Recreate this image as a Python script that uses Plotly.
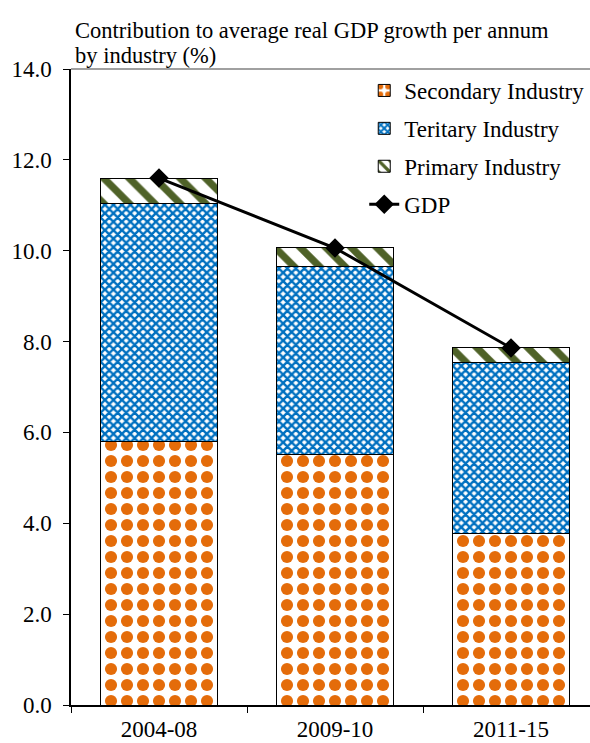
import plotly.graph_objects as go

categories = ["2004-08", "2009-10", "2011-15"]
secondary = [5.79, 5.51, 3.77]
tertiary = [5.26, 4.15, 3.76]
primary = [0.55, 0.40, 0.33]
gdp = [11.6, 10.06, 7.86]
y_ticks = [0, 2, 4, 6, 8, 10, 12, 14]

FONT = "Times New Roman, Liberation Serif, serif"
FS = 23
ORANGE = "#E46C0A"
BLUE = "#0070C0"
GREEN = "#4F6228"

fig = go.Figure()
fig.add_trace(go.Bar(
    x=categories, y=secondary, name="Secondary Industry", legendgroup="a",
    marker=dict(color="white", line=dict(color="black", width=1),
                pattern=dict(shape=".", fgcolor=ORANGE, bgcolor="white",
                             size=16, solidity=0.45, fillmode="replace")),
))
fig.add_trace(go.Bar(
    x=categories, y=tertiary, name="Teritary Industry", legendgroup="b",
    marker=dict(color="white", line=dict(color="black", width=1),
                pattern=dict(shape="x", fgcolor=BLUE, bgcolor="white",
                             size=6, solidity=0.65, fillmode="replace")),
))
fig.add_trace(go.Bar(
    x=categories, y=primary, name="Primary Industry", legendgroup="c",
    marker=dict(color="white", line=dict(color="black", width=1),
                pattern=dict(shape="\\", fgcolor=GREEN, bgcolor="white",
                             size=18, solidity=0.4, fillmode="replace")),
))
fig.add_trace(go.Scatter(
    x=categories, y=gdp, name="GDP", legendgroup="d", mode="lines+markers",
    line=dict(color="black", width=3),
    marker=dict(symbol="diamond", size=15, color="black"),
))

plot_left, plot_right = 71, 590
cat_px = 176.0
right_ext = (plot_right - plot_left) / cat_px - 0.5

fig.update_layout(
    width=590, height=743,
    margin=dict(l=plot_left, r=590 - plot_right, t=69, b=38, pad=0),
    paper_bgcolor="white", plot_bgcolor="white",
    barmode="stack", bargap=0.335,
    font=dict(family=FONT, size=FS, color="black"),
    showlegend=True,
    legend=dict(x=0.565, y=1.0, xanchor="left", yanchor="top",
                traceorder="grouped", tracegroupgap=5,
                font=dict(family=FONT, size=FS, color="black"),
                bgcolor="rgba(0,0,0,0)"),
    xaxis=dict(type="category", range=[-0.5, right_ext], showgrid=False,
               showline=True, automargin=False,
               linecolor="black", linewidth=1.5, ticks="outside",
               tickson="boundaries", ticklen=6, tickcolor="black",
               tickfont=dict(family=FONT, size=FS, color="black"),
               ticklabelstandoff=3, zeroline=False, tickangle=0),
    yaxis=dict(range=[0, 14], tickvals=y_ticks, tickformat=".1f",
               automargin=False,
               showgrid=False, showline=True, linecolor="black", linewidth=1.5,
               ticks="outside", ticklen=6, tickcolor="black",
               tickfont=dict(family=FONT, size=FS, color="black"),
               ticklabelstandoff=7, zeroline=False),
    shapes=[dict(type="line", xref="paper", yref="paper", x0=0, x1=1,
                 y0=1, y1=1, line=dict(color="#808080", width=1.5))],
    annotations=[
        dict(text="Contribution to average real GDP growth per annum",
             xref="paper", yref="paper", x=0.004, y=1, xanchor="left",
             yanchor="bottom", yshift=24, showarrow=False,
             font=dict(family=FONT, size=22.5, color="black")),
        dict(text="by industry (%)",
             xref="paper", yref="paper", x=0.004, y=1, xanchor="left",
             yanchor="bottom", yshift=-1, showarrow=False,
             font=dict(family=FONT, size=22.5, color="black")),
    ],
)

fig.write_html("out.html")
